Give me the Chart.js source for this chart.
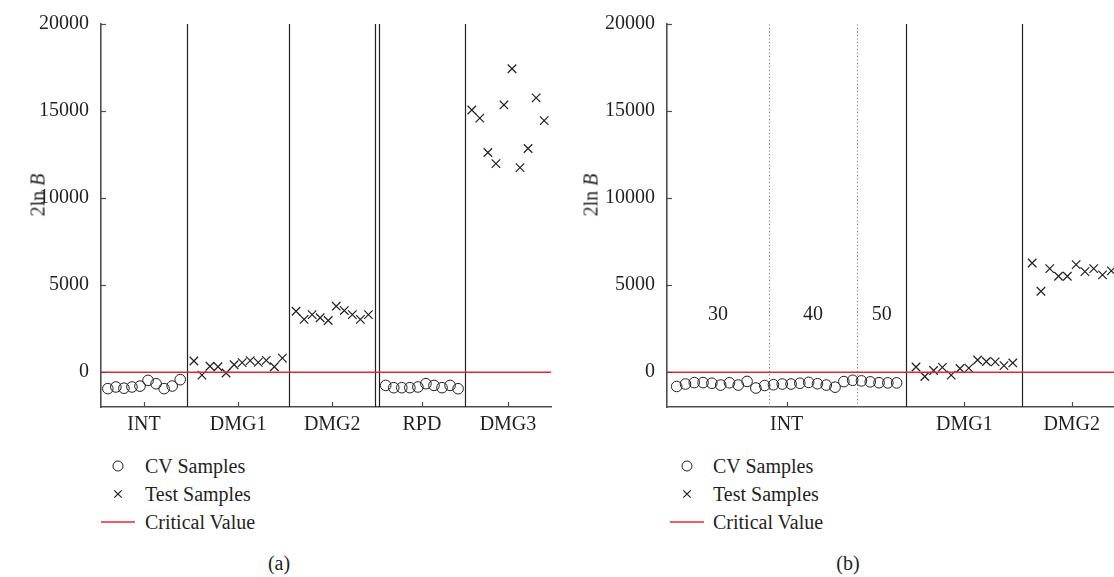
<!DOCTYPE html>
<html>
<head>
<meta charset="utf-8">
<title>2ln B statistics by structural state</title>
<script src="https://cdn.jsdelivr.net/npm/chart.js@4.4.1/dist/chart.umd.min.js"></script>
<style>
  html, body { margin: 0; padding: 0; background: #fff; }
  body {
    width: 1114px; height: 577px; overflow: hidden; position: relative;
    font-family: "Liberation Serif", "Times New Roman", serif; color: #231f20;
  }
  canvas { position: absolute; top: 0; }
  #chartA { left: 0; }
  #chartB { left: 560px; }
  .ytitle {
    position: absolute; font-size: 20px; white-space: nowrap;
    transform: translate(-50%, -50%) rotate(-90deg);
  }
  .legend-text { position: absolute; font-size: 20px; white-space: nowrap; transform: translateY(-50%); }
  .legend-mark { position: absolute; line-height: 0; }
  .legend-mark svg { display: block; }
  .caption { position: absolute; font-size: 20px; transform: translate(-50%, -50%); }
</style>
</head>
<body>
<canvas id="chartA" width="560" height="440"></canvas>
<canvas id="chartB" width="570" height="440"></canvas>
<div id="overlay"></div>
<script>
// ---- values ----------------------------------------------------------
const criticalValue = 0;
const yTicks = [0, 5000, 10000, 15000, 20000];
const legendLabels = ['CV Samples', 'Test Samples', 'Critical Value'];

// Panel (a): five structural states
const statesA = ['INT', 'DMG1', 'DMG2', 'RPD', 'DMG3'];
const intA  = [-945, -850, -920, -850, -800, -470, -665, -945, -795, -430];
const dmg1A = [640, -170, 340, 310, -45, 425, 550, 665, 567, 680, 310, 805];
const dmg2A = [3500, 3030, 3310, 3125, 2970, 3790, 3540, 3310, 3030, 3310];
const rpdA  = [-760, -890, -890, -890, -850, -660, -760, -890, -760, -950];
const dmg3A = [15060, 14590, 12620, 11980, 15350, 17430, 11750, 12850, 15760, 14450];

// Panel (b): intact state split into three subsets
const statesB = ['INT', 'DMG1', 'DMG2'];
const intSubsetLabels = ['30', '40', '50'];
const intSubsetSizes = [11, 10, 5];
const intB  = [-820, -680, -600, -600, -635, -740, -610, -740, -530, -910, -765,
               -720, -680, -680, -635, -585, -665, -740, -860, -540, -465,
               -500, -555, -605, -615, -615];
const dmg1B = [300, -250, 95, 280, -170, 210, 230, 700, 615, 590, 380, 530];
const dmg2B = [6270, 4650, 5950, 5510, 5510, 6180, 5780, 5950, 5590, 5820];

// ---- styling ---------------------------------------------------------
const INK = '#231f20';
const AXIS = '#4d4d4d';
const RED = '#e8262d';
const FONT = { family: '"Liberation Serif", "Times New Roman", serif', size: 20 };

// Lay sample groups side by side along a sample-index axis.
function layoutGroups(groups, pad, gapAfter) {
  let cursor = 0;
  const cv = [], test = [], spans = [];
  groups.forEach((g, gi) => {
    const start = cursor;
    const end = start + g.values.length + 2 * pad;
    spans.push({ start, end, center: (start + end) / 2 });
    g.values.forEach((v, i) => {
      (g.kind === 'cv' ? cv : test).push({ x: start + pad + 0.5 + i, y: v });
    });
    cursor = end + (gapAfter[gi] || 0);
  });
  const total = spans[spans.length - 1].end;
  return { cv, test, spans, total };
}

function makePanel(canvasId, groups, cfg) {
  const L = layoutGroups(groups, cfg.pad, cfg.gapAfter || {});
  const names = groups.map(g => g.name);

  // Solid separators between states (double line where a gap is left)
  const solid = [];
  L.spans.forEach((s, i) => {
    if (i === L.spans.length - 1) return;
    solid.push(s.end);
    if (L.spans[i + 1].start !== s.end) solid.push(L.spans[i + 1].start);
  });

  // Dotted separators and labels for subsets inside the first group
  const dotted = [], subLabels = [];
  if (cfg.subsets) {
    const s0 = L.spans[0];
    let cum = 0, prev = s0.start;
    cfg.subsets.sizes.forEach((n, k) => {
      cum += n;
      const edge = (k === cfg.subsets.sizes.length - 1) ? s0.end : s0.start + cfg.pad + cum;
      if (k < cfg.subsets.sizes.length - 1) dotted.push(edge);
      subLabels.push({ x: (prev + edge) / 2, text: cfg.subsets.labels[k] });
      prev = edge;
    });
  }

  const decor = {
    id: 'decor',
    beforeDatasetsDraw(chart) {
      const { ctx, chartArea: a, scales: { x, y } } = chart;
      const top = y.getPixelForValue(yTicks[yTicks.length - 1]);
      ctx.save();
      ctx.strokeStyle = INK;
      ctx.lineWidth = 1.2;
      solid.forEach(v => {
        const px = Math.round(x.getPixelForValue(v)) + 0.5;
        ctx.beginPath(); ctx.moveTo(px, a.bottom); ctx.lineTo(px, top); ctx.stroke();
      });
      ctx.strokeStyle = '#666';
      ctx.lineWidth = 1;
      ctx.setLineDash([1, 2.5]);
      dotted.forEach(v => {
        const px = Math.round(x.getPixelForValue(v)) + 0.5;
        ctx.beginPath(); ctx.moveTo(px, a.bottom); ctx.lineTo(px, top); ctx.stroke();
      });
      ctx.setLineDash([]);
      ctx.fillStyle = INK;
      ctx.font = `${FONT.size}px ${FONT.family}`;
      ctx.textAlign = 'center';
      ctx.textBaseline = 'middle';
      subLabels.forEach(s => {
        ctx.fillText(s.text, x.getPixelForValue(s.x), y.getPixelForValue(cfg.subsets.level));
      });
      ctx.restore();
    },
    afterDraw(chart) {
      // inward tick marks
      const { ctx, chartArea: a, scales: { x, y } } = chart;
      ctx.save();
      ctx.strokeStyle = AXIS;
      ctx.lineWidth = 1.2;
      yTicks.forEach(v => {
        const py = Math.round(y.getPixelForValue(v)) + 0.5;
        ctx.beginPath(); ctx.moveTo(a.left, py); ctx.lineTo(a.left + 5, py); ctx.stroke();
      });
      L.spans.forEach(s => {
        const px = Math.round(x.getPixelForValue(s.center)) + 0.5;
        ctx.beginPath(); ctx.moveTo(px, a.bottom); ctx.lineTo(px, a.bottom - 5); ctx.stroke();
      });
      ctx.restore();
    }
  };

  return new Chart(document.getElementById(canvasId), {
    type: 'scatter',
    data: {
      datasets: [
        {
          label: legendLabels[2],
          data: [{ x: 0, y: criticalValue }, { x: L.total, y: criticalValue }],
          showLine: true, borderColor: RED, borderWidth: 1.5, pointRadius: 0
        },
        {
          label: legendLabels[0], data: L.cv,
          pointStyle: 'circle', pointRadius: 5.3, borderWidth: 1,
          borderColor: INK, backgroundColor: 'rgba(0,0,0,0)'
        },
        {
          label: legendLabels[1], data: L.test,
          pointStyle: 'crossRot', pointRadius: 6, borderWidth: 1.2,
          borderColor: INK, backgroundColor: INK
        }
      ]
    },
    options: {
      responsive: false,
      animation: false,
      events: [],
      layout: { padding: { left: 0, top: 19, right: cfg.padRight, bottom: 0 } },
      plugins: { legend: { display: false }, tooltip: { enabled: false } },
      scales: {
        x: {
          type: 'linear', min: 0, max: L.total,
          afterBuildTicks: ax => { ax.ticks = L.spans.map(s => ({ value: s.center })); },
          afterFit: s => { s.height = 33; },
          ticks: {
            autoSkip: false, maxRotation: 0, padding: 6,
            font: FONT, color: INK,
            callback: (v, i) => names[i]
          },
          grid: { display: true, drawOnChartArea: false, drawTicks: false },
          border: { display: true, color: AXIS, width: 1.6 }
        },
        y: {
          min: -2000, max: 20000,
          afterBuildTicks: ax => { ax.ticks = yTicks.map(v => ({ value: v })); },
          afterFit: s => { s.width = cfg.axisLeft; },
          ticks: { padding: 12, font: FONT, color: INK, callback: v => String(v) },
          grid: { display: true, drawOnChartArea: false, drawTicks: false },
          border: { display: true, color: AXIS, width: 1.6 }
        }
      }
    },
    plugins: [decor]
  });
}

makePanel('chartA', [
  { name: statesA[0], kind: 'cv',   values: intA },
  { name: statesA[1], kind: 'test', values: dmg1A },
  { name: statesA[2], kind: 'test', values: dmg2A },
  { name: statesA[3], kind: 'cv',   values: rpdA },
  { name: statesA[4], kind: 'test', values: dmg3A }
], { pad: 0.35, gapAfter: { 2: 0.45 }, axisLeft: 101, padRight: 9 });

makePanel('chartB', [
  { name: statesB[0], kind: 'cv',   values: intB },
  { name: statesB[1], kind: 'test', values: dmg1B },
  { name: statesB[2], kind: 'test', values: dmg2B }
], {
  pad: 0.6, axisLeft: 107, padRight: 9,
  subsets: { sizes: intSubsetSizes, labels: intSubsetLabels, level: 3300 }
});

// ---- axis titles, legends and captions (HTML text) ---------------------
const overlay = document.getElementById('overlay');
function addEl(cls, html, x, y) {
  const d = document.createElement('div');
  d.className = cls;
  d.innerHTML = html;
  d.style.left = x + 'px';
  d.style.top = y + 'px';
  overlay.appendChild(d);
  return d;
}
const markSvgs = [
  '<svg width="14" height="14"><circle cx="7" cy="7" r="5" fill="none" stroke="#231f20" stroke-width="1"/></svg>',
  '<svg width="14" height="14"><path d="M3.3 3.3 L10.7 10.7 M10.7 3.3 L3.3 10.7" stroke="#231f20" stroke-width="1.2"/></svg>',
  '<svg width="36" height="4"><line x1="0" y1="2" x2="34" y2="2" stroke="' + RED + '" stroke-width="1.6"/></svg>'
];
function addLegend(markX, lineX, textX, rows, caption, capX) {
  rows.forEach((rowY, i) => {
    if (i < 2) addEl('legend-mark', markSvgs[i], markX - 7, rowY - 7);
    else addEl('legend-mark', markSvgs[i], lineX, rowY - 2);
    addEl('legend-text', legendLabels[i], textX, rowY);
  });
  addEl('caption', caption, capX, 563);
}
addEl('ytitle', '2ln <i>B</i>', 38, 195);
addEl('ytitle', '2ln <i>B</i>', 591, 195);
addLegend(118, 101, 145, [466, 494, 522], '(a)', 279);
addLegend(687, 670, 713, [466, 494, 522], '(b)', 848);
</script>
</body>
</html>
